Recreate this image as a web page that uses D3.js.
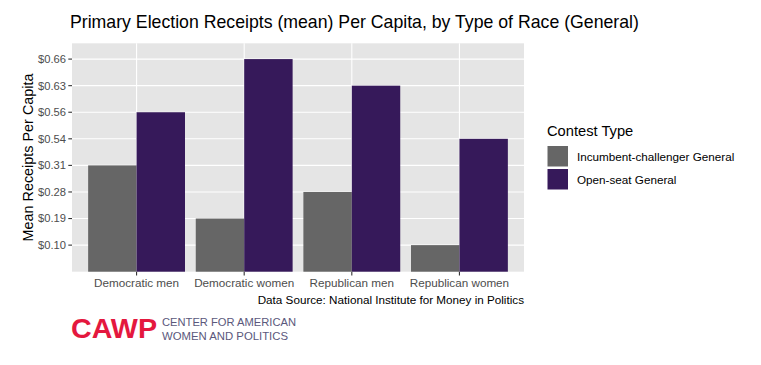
<!DOCTYPE html>
<html><head><meta charset="utf-8">
<script src="https://cdn.jsdelivr.net/npm/d3@7"></script>
<style>body{margin:0;background:#fff}svg{display:block;font-family:"Liberation Sans",Arial,sans-serif}</style>
</head><body><svg id="c" width="761" height="365"></svg>
<script>
const categories = ["Democratic men","Democratic women","Republican men","Republican women"];
const seriesNames = ["Incumbent-challenger General","Open-seat General"];
const incumbentValues = [0.31, 0.19, 0.28, 0.10];
const openSeatValues = [0.56, 0.66, 0.63, 0.54];
const yTickLabels = ["$0.10","$0.19","$0.28","$0.31","$0.54","$0.56","$0.63","$0.66"];
const colors = ["#666666","#36195a"];

const svg = d3.select("#c");
const L = 72, R = 524, T = 43.3, B = 271.7;
// discrete y: level positions 1..8, bars start at 0
const levels = yTickLabels.map(s => +s.slice(1));
const y = d3.scaleLinear().domain([0, 8.594]).range([B, T]);
const levelPos = v => levels.indexOf(v) + 1;
// discrete x with ggplot-like 0.6 unit expansion on each side
const x = d3.scalePoint().domain(categories).range([0, categories.length - 1]);
const unit = (R - L) / (categories.length - 1 + 1.2);
const xc = c => L + unit * (0.6 + x(c));
const barW = unit * 0.9;

svg.append("rect").attr("x", L).attr("y", T).attr("width", R - L).attr("height", B - T).attr("fill", "#e5e5e5");
yTickLabels.forEach((t, i) => {
  svg.append("line").attr("x1", L).attr("x2", R).attr("y1", y(i + 1)).attr("y2", y(i + 1)).attr("stroke", "#fff").attr("stroke-width", 1.1);
});
categories.forEach(c => {
  svg.append("line").attr("x1", xc(c)).attr("x2", xc(c)).attr("y1", T).attr("y2", B).attr("stroke", "#fff").attr("stroke-width", 1.1);
});
const data = [];
categories.forEach((c, i) => {
  data.push({c, s: 0, v: incumbentValues[i]});
  data.push({c, s: 1, v: openSeatValues[i]});
});
svg.append("g").selectAll("rect").data(data).join("rect")
  .attr("x", d => xc(d.c) - barW / 2 + d.s * barW / 2)
  .attr("width", barW / 2)
  .attr("y", d => y(levelPos(d.v)))
  .attr("height", d => B - y(levelPos(d.v)))
  .attr("fill", d => colors[d.s]);

const fs = 11.7;
const yAx = svg.append("g");
yTickLabels.forEach((t, i) => {
  const yy = y(i + 1);
  yAx.append("line").attr("x1", L - 3.7).attr("x2", L).attr("y1", yy).attr("y2", yy).attr("stroke", "#333").attr("stroke-width", 1.1);
  yAx.append("text").attr("x", L - 6).attr("y", yy).attr("dy", "0.35em").attr("text-anchor", "end")
    .attr("font-size", 11.2).attr("fill", "#4d4d4d").text(t);
});
categories.forEach(c => {
  svg.append("line").attr("x1", xc(c)).attr("x2", xc(c)).attr("y1", B).attr("y2", B + 3.7).attr("stroke", "#333").attr("stroke-width", 1.1);
  svg.append("text").attr("x", xc(c)).attr("y", B + 14.8).attr("text-anchor", "middle")
    .attr("font-size", fs).attr("fill", "#4d4d4d").text(c);
});
svg.append("text").attr("transform", `translate(32.5,${(T + B) / 2}) rotate(-90)`).attr("text-anchor", "middle")
  .attr("font-size", 14.4).attr("fill", "#000").text("Mean Receipts Per Capita");
svg.append("text").attr("x", L - 2).attr("y", 28).attr("font-size", 17.7).attr("fill", "#000")
  .text("Primary Election Receipts (mean) Per Capita, by Type of Race (General)");
svg.append("text").attr("x", R).attr("y", 304).attr("text-anchor", "end").attr("font-size", fs).attr("fill", "#000")
  .text("Data Source: National Institute for Money in Politics");
const lg = svg.append("g");
lg.append("text").attr("x", 547).attr("y", 136).attr("font-size", 14.7).attr("fill", "#000").text("Contest Type");
seriesNames.forEach((s, i) => {
  const yy = 145.5 + i * 23;
  lg.append("rect").attr("x", 547).attr("y", yy).attr("width", 21.5).attr("height", 21.5).attr("fill", colors[i]).attr("stroke", "#fff").attr("stroke-width", 1);
  lg.append("text").attr("x", 577).attr("y", yy + 11).attr("dy", "0.35em").attr("font-size", fs).attr("fill", "#000").text(s);
});
// CAWP logo
svg.append("text").attr("x", 71).attr("y", 338).attr("font-size", 27).attr("font-weight", "bold").attr("fill", "#e4183e")
  .attr("textLength", 86).attr("lengthAdjust", "spacingAndGlyphs").text("CAWP");
svg.append("text").attr("font-size", 11.3).attr("fill", "#5b587c").attr("x", 162).attr("y", 326.3)
  .attr("textLength", 134).attr("lengthAdjust", "spacingAndGlyphs").text("CENTER FOR AMERICAN");
svg.append("text").attr("font-size", 11.3).attr("fill", "#5b587c").attr("x", 162).attr("y", 339.5)
  .attr("textLength", 126).attr("lengthAdjust", "spacingAndGlyphs").text("WOMEN AND POLITICS");
</script></body></html>
